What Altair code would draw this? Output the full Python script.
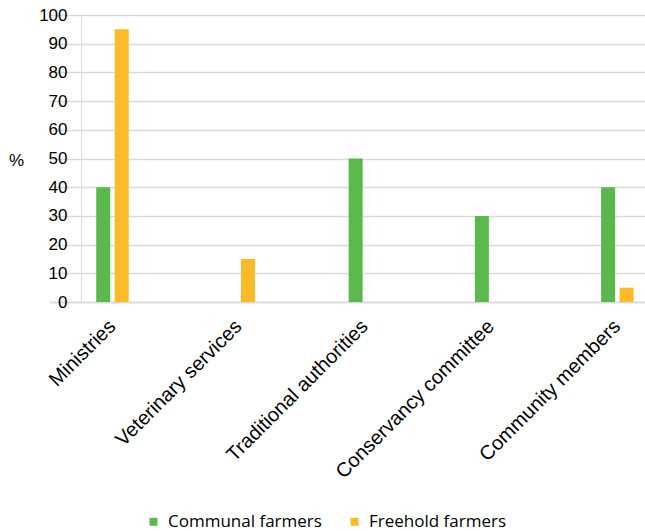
import altair as alt
import pandas as pd

# Who farmers consult, share of respondents (%)
categories = [
    "Ministries",
    "Veterinary services",
    "Traditional authorities",
    "Conservancy committee",
    "Community members",
]
series_names = ["Communal farmers", "Freehold farmers"]
communal = [40, 0, 50, 30, 40]
freehold = [95, 15, 0, 0, 5]
y_ticks = list(range(0, 101, 10))

colors = ["#5BB84D", "#FBBA28"]

rows = []
for cat, c, f in zip(categories, communal, freehold):
    rows.append({"category": cat, "group": series_names[0], "value": c})
    rows.append({"category": cat, "group": series_names[1], "value": f})
df = pd.DataFrame(rows)

W, H = 564, 287
label_font = "Liberation Sans"

chart = (
    alt.Chart(df)
    .mark_bar()
    .encode(
        x=alt.X(
            "category:N",
            sort=categories,
            scale=alt.Scale(
                range=[-31.6, 599.4], paddingInner=0.7425, paddingOuter=0.371
            ),
            axis=alt.Axis(
                title=None,
                labelAngle=-45,
                labelAlign="right",
                labelBaseline="middle",
                labelFont=label_font,
                labelFontSize=20,
                labelColor="#000000",
                labelPadding=21,
                labelLimit=400,
                ticks=False,
                domain=True,
                domainColor="#d9d9d9",
                domainWidth=1.5,
                grid=False,
            ),
        ),
        xOffset=alt.XOffset(
            "group:N",
            sort=series_names,
            scale=alt.Scale(paddingInner=0.243, paddingOuter=0),
        ),
        y=alt.Y(
            "value:Q",
            scale=alt.Scale(domain=[0, 100], nice=False),
            axis=alt.Axis(
                values=y_ticks,
                title="%",
                titleAngle=0,
                titleFont=label_font,
                titleFontSize=17,
                titleFontWeight="normal",
                titleColor="#000000",
                titleAlign="center",
                titleBaseline="middle",
                titleX=-65,
                titleY=145,
                labelFont=label_font,
                labelFontSize=17,
                labelColor="#000000",
                labelPadding=14,
                ticks=False,
                domain=False,
                grid=True,
                gridColor="#d9d9d9",
                gridWidth=1.5,
            ),
        ),
        color=alt.Color(
            "group:N",
            sort=series_names,
            scale=alt.Scale(domain=series_names, range=colors),
            legend=alt.Legend(
                title=None,
                orient="none",
                direction="horizontal",
                legendX=64,
                legendY=498,
                symbolType="square",
                symbolSize=64,
                symbolStrokeWidth=0,
                labelFont="Open Sans",
                labelFontSize=17,
                labelColor="#000000",
                labelOffset=6,
                columnPadding=24,
            ),
        ),
    )
    .properties(
        width=W,
        height=H,
        autosize=alt.AutoSizeParams(type="none"),
        padding={"left": 81, "top": 15, "right": 0, "bottom": 229},
    )
    .configure_view(stroke=None)
    .configure(background="#ffffff")
)

chart.save("out.html", embed_options={"renderer": "svg", "actions": False})
